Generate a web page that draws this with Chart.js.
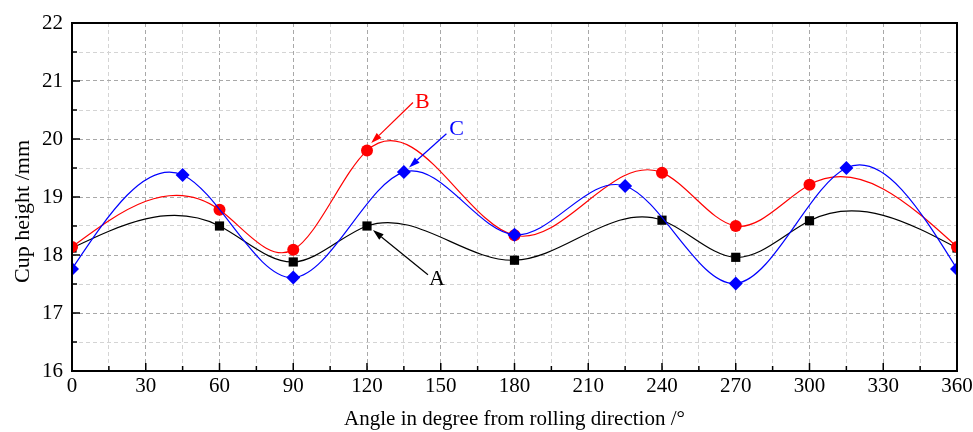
<!DOCTYPE html>
<html>
<head>
<meta charset="utf-8">
<script src="https://cdn.jsdelivr.net/npm/chart.js@4/dist/chart.umd.min.js"></script>
<style>
  html, body { margin: 0; padding: 0; background: #fff; }
  #wrap { width: 973px; height: 432px; }
</style>
</head>
<body>
<div id="wrap"><canvas id="cupChart"></canvas></div>
<script>
// values
const anglesAB = [0, 60, 90, 120, 180, 240, 270, 300, 360];
const heightA = [18.12, 18.5, 17.88, 18.5, 17.91, 18.6, 17.96, 18.59, 18.12];
const heightB = [18.14, 18.78, 18.09, 19.8, 18.34, 19.42, 18.5, 19.21, 18.14];
const anglesC = [0, 45, 90, 135, 180, 225, 270, 315, 360];
const heightC = [17.76, 19.38, 17.61, 19.43, 18.35, 19.19, 17.51, 19.5, 17.76];

// label, text anchor, arrow start, arrow tip (data units)
const callouts = [
  { text: "A", color: "#000000", at: [148.5, 17.58], from: [144.8, 17.66], to: [122.4, 18.43] },
  { text: "B", color: "#ff0000", at: [142.5, 20.63], from: [138.7, 20.63], to: [121.7, 19.93] },
  { text: "C", color: "#0000ff", at: [156.4, 20.17], from: [152.3, 20.09], to: [137.1, 19.51] },
];

const yTitle = "Cup height /mm";
const serif = "'Liberation Serif', 'Times New Roman', serif";

function toXY(xs, ys) {
  return xs.map((x, i) => ({ x: x, y: ys[i] }));
}

// natural cubic spline through the points, set as bezier control points
const splinePlugin = {
  id: "splinePlugin",
  beforeDatasetDraw(chart, args) {
    const meta = args.meta;
    meta.dataset.updateControlPoints(chart.chartArea, "x");
    const pts = meta.data;
    const n = pts.length;
    if (n < 3) return;
    const x = pts.map((p) => p.x);
    const y = pts.map((p) => p.y);
    const h = [];
    for (let i = 0; i < n - 1; i++) h.push(x[i + 1] - x[i]);
    // tridiagonal solve for second derivatives, M[0] = M[n-1] = 0
    const M = new Array(n).fill(0);
    const a = [], b = [], c = [], d = [];
    for (let i = 1; i < n - 1; i++) {
      a.push(h[i - 1]);
      b.push(2 * (h[i - 1] + h[i]));
      c.push(h[i]);
      d.push(6 * ((y[i + 1] - y[i]) / h[i] - (y[i] - y[i - 1]) / h[i - 1]));
    }
    const m = b.length;
    for (let i = 1; i < m; i++) {
      const w = a[i] / b[i - 1];
      b[i] -= w * c[i - 1];
      d[i] -= w * d[i - 1];
    }
    const sol = new Array(m);
    sol[m - 1] = d[m - 1] / b[m - 1];
    for (let i = m - 2; i >= 0; i--) sol[i] = (d[i] - c[i] * sol[i + 1]) / b[i];
    for (let i = 0; i < m; i++) M[i + 1] = sol[i];
    const slope = [];
    for (let i = 0; i < n - 1; i++) {
      slope.push((y[i + 1] - y[i]) / h[i] - (h[i] * (2 * M[i] + M[i + 1])) / 6);
    }
    slope.push((y[n - 1] - y[n - 2]) / h[n - 2] + (h[n - 2] * (M[n - 2] + 2 * M[n - 1])) / 6);
    for (let i = 0; i < n - 1; i++) {
      pts[i].cp2x = x[i] + h[i] / 3;
      pts[i].cp2y = y[i] + (slope[i] * h[i]) / 3;
      pts[i + 1].cp1x = x[i + 1] - h[i] / 3;
      pts[i + 1].cp1y = y[i + 1] - (slope[i + 1] * h[i]) / 3;
    }
  },
};

// frame, inward ticks, y title and the A/B/C callouts
const framePlugin = {
  id: "framePlugin",
  afterDatasetsDraw(chart) {
    const ctx = chart.ctx;
    const area = chart.chartArea;
    const xs = chart.scales.x;
    const ys = chart.scales.y;
    ctx.save();
    ctx.strokeStyle = "#000";
    ctx.lineWidth = 1.5;
    xs.ticks.forEach((t) => {
      const px = xs.getPixelForValue(t.value);
      const len = t.value % 30 === 0 ? 8 : 5;
      ctx.beginPath();
      ctx.moveTo(px, area.bottom);
      ctx.lineTo(px, area.bottom - len);
      ctx.stroke();
    });
    ys.ticks.forEach((t) => {
      const py = ys.getPixelForValue(t.value);
      const len = Number.isInteger(t.value) ? 8 : 5;
      ctx.beginPath();
      ctx.moveTo(area.left, py);
      ctx.lineTo(area.left + len, py);
      ctx.stroke();
    });
    ctx.lineWidth = 2;
    ctx.strokeRect(area.left, area.top, area.right - area.left, area.bottom - area.top);

    // y axis title sits a little below the middle in the original
    ctx.save();
    ctx.translate(23, ys.getPixelForValue(18.75));
    ctx.rotate(-Math.PI / 2);
    ctx.fillStyle = "#000";
    ctx.font = "22px " + serif;
    ctx.textAlign = "center";
    ctx.textBaseline = "middle";
    ctx.fillText(yTitle, 0, 0);
    ctx.restore();

    callouts.forEach((c) => {
      const x0 = xs.getPixelForValue(c.from[0]);
      const y0 = ys.getPixelForValue(c.from[1]);
      const x1 = xs.getPixelForValue(c.to[0]);
      const y1 = ys.getPixelForValue(c.to[1]);
      const ang = Math.atan2(y1 - y0, x1 - x0);
      const headLen = 11;
      const headW = 3.5;
      ctx.strokeStyle = c.color;
      ctx.fillStyle = c.color;
      ctx.lineWidth = 1.2;
      ctx.beginPath();
      ctx.moveTo(x0, y0);
      ctx.lineTo(x1 - Math.cos(ang) * headLen, y1 - Math.sin(ang) * headLen);
      ctx.stroke();
      ctx.beginPath();
      ctx.moveTo(x1, y1);
      ctx.lineTo(x1 - Math.cos(ang) * headLen - Math.sin(ang) * headW, y1 - Math.sin(ang) * headLen + Math.cos(ang) * headW);
      ctx.lineTo(x1 - Math.cos(ang) * headLen + Math.sin(ang) * headW, y1 - Math.sin(ang) * headLen - Math.cos(ang) * headW);
      ctx.closePath();
      ctx.fill();
      ctx.font = "22px " + serif;
      ctx.textAlign = "center";
      ctx.textBaseline = "middle";
      ctx.fillText(c.text, xs.getPixelForValue(c.at[0]), ys.getPixelForValue(c.at[1]));
    });
    ctx.restore();
  },
};

document.addEventListener("DOMContentLoaded", function () {
  const ctx = document.getElementById("cupChart").getContext("2d");
  new Chart(ctx, {
    type: "line",
    data: {
      datasets: [
        {
          label: "A",
          data: toXY(anglesAB, heightA),
          borderColor: "#000000",
          backgroundColor: "#000000",
          borderWidth: 1.2,
          pointStyle: "rect",
          pointRadius: 6.5,
          pointBorderWidth: 0,
          tension: 0.4,
          order: 2,
        },
        {
          label: "B",
          data: toXY(anglesAB, heightB),
          borderColor: "#ff0000",
          backgroundColor: "#ff0000",
          borderWidth: 1.2,
          pointStyle: "circle",
          pointRadius: 6,
          pointBorderWidth: 0,
          tension: 0.4,
          order: 1,
        },
        {
          label: "C",
          data: toXY(anglesC, heightC),
          borderColor: "#0000ff",
          backgroundColor: "#0000ff",
          borderWidth: 1.2,
          pointStyle: "rectRot",
          pointRadius: 7,
          pointBorderWidth: 0,
          tension: 0.4,
          order: 0,
        },
      ],
    },
    options: {
      responsive: true,
      maintainAspectRatio: false,
      animation: false,
      layout: {
        padding: { top: 23, right: 16, bottom: 0, left: 0 },
      },
      plugins: {
        legend: { display: false },
        tooltip: { enabled: false },
      },
      scales: {
        x: {
          type: "linear",
          min: 0,
          max: 360,
          afterFit: (scale) => {
            scale.height = 61;
            scale.paddingLeft = 0;
            scale.paddingRight = 0;
          },
          ticks: {
            stepSize: 15,
            autoSkip: false,
            maxRotation: 0,
            padding: 3,
            color: "#000",
            font: { family: serif, size: 21 },
            callback: (v) => (v % 30 === 0 ? v : ""),
          },
          grid: {
            drawTicks: false,
            lineWidth: 1,
            color: (c) => (c.tick && c.tick.value % 30 === 0 ? "#a8a8a8" : "#d4d4d4"),
          },
          border: { display: false, dash: [4, 3] },
          title: {
            display: true,
            text: "Angle in degree from rolling direction /°",
            color: "#000",
            font: { family: serif, size: 21 },
            padding: { top: 2, bottom: 0 },
          },
        },
        y: {
          min: 16,
          max: 22,
          afterFit: (scale) => {
            scale.width = 72;
          },
          ticks: {
            stepSize: 0.5,
            autoSkip: false,
            padding: 9,
            color: "#000",
            font: { family: serif, size: 21 },
            callback: (v) => (Number.isInteger(v) ? v : ""),
          },
          grid: {
            drawTicks: false,
            lineWidth: 1,
            color: (c) => (c.tick && Number.isInteger(c.tick.value) ? "#a8a8a8" : "#d4d4d4"),
          },
          border: { display: false, dash: [4, 3] },
          title: { display: false },
        },
      },
    },
    plugins: [splinePlugin, framePlugin],
  });
});
</script>
</body>
</html>
